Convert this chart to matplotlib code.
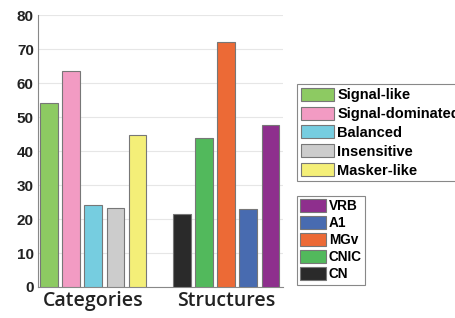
import matplotlib
matplotlib.use("Agg")
import matplotlib.pyplot as plt
from matplotlib.patches import Patch

categories = ["Signal-like", "Signal-dominated", "Balanced", "Insensitive", "Masker-like"]
category_values = [54, 63.7, 24, 23.1, 44.7]
category_colors = ["#8dca62", "#f29bc3", "#76cde0", "#cccccc", "#f4ef78"]

structures = ["CN", "CNIC", "MGv", "A1", "VRB"]
structure_values = [21.6, 43.8, 72, 23.0, 47.6]
structure_colors = ["#2a2a2a", "#52b95c", "#ec6a36", "#486bb0", "#8e2f8d"]

group_labels = ["Categories", "Structures"]
yticks = [0, 10, 20, 30, 40, 50, 60, 70, 80]

fig = plt.figure(figsize=(4.55, 3.18), dpi=100)
ax = fig.add_axes([0.0835, 0.0975, 0.539, 0.855])

edge = "#777777"
cat_x = list(range(len(categories)))
str_x = [len(categories) + 1 + i for i in range(len(structures))]
ax.bar(cat_x, category_values, width=0.8, color=category_colors,
       edgecolor=edge, linewidth=0.8, zorder=3)
ax.bar(str_x, structure_values, width=0.8, color=structure_colors,
       edgecolor=edge, linewidth=0.8, zorder=3)

ax.set_xlim(-0.5, 10.58)
ax.set_ylim(0, 80)
ax.set_yticks(yticks)
ax.set_yticklabels([str(v) for v in yticks], fontsize=11, fontweight="bold",
                   family="Liberation Sans", color="#222222")
ax.set_xticks([2, 8])
ax.set_xticklabels(group_labels, fontsize=14, family="Open Sans", fontweight="semibold",
                   color="#222222")
ax.tick_params(axis="x", length=0, pad=3)
ax.tick_params(axis="y", length=0, pad=3)
ax.yaxis.grid(True, color="#e6e6e6", linewidth=0.8, zorder=0)
for s in ["top", "right"]:
    ax.spines[s].set_visible(False)
for s in ["left", "bottom"]:
    ax.spines[s].set_color("#888888")
    ax.spines[s].set_linewidth(0.8)

h1 = [Patch(facecolor=c, edgecolor=edge, linewidth=0.8) for c in category_colors]
leg1 = fig.legend(h1, categories, loc="upper left", bbox_to_anchor=(297/455, 1-84/318),
                  prop={"family": "Liberation Sans", "weight": "bold", "size": 10.5},
                  frameon=True, fancybox=False, edgecolor="#888888", framealpha=1,
                  handlelength=2.3, handleheight=1.0, handletextpad=0.2,
                  labelspacing=0.3, borderpad=0.25, borderaxespad=0)
leg1.get_frame().set_linewidth(0.8)

order = list(range(len(structures)))[::-1]
h2 = [Patch(facecolor=structure_colors[i], edgecolor=edge, linewidth=0.8) for i in order]
l2 = [structures[i] for i in order]
leg2 = fig.legend(h2, l2, loc="upper left", bbox_to_anchor=(297/455, 1-196/318),
                  prop={"family": "Liberation Sans", "weight": "bold", "size": 9.8},
                  frameon=True, fancybox=False, edgecolor="#888888", framealpha=1,
                  handlelength=1.9, handleheight=1.05, handletextpad=0.2,
                  labelspacing=0.22, borderpad=0.25, borderaxespad=0)
leg2.get_frame().set_linewidth(0.8)

fig.savefig("out.png", dpi=100)
